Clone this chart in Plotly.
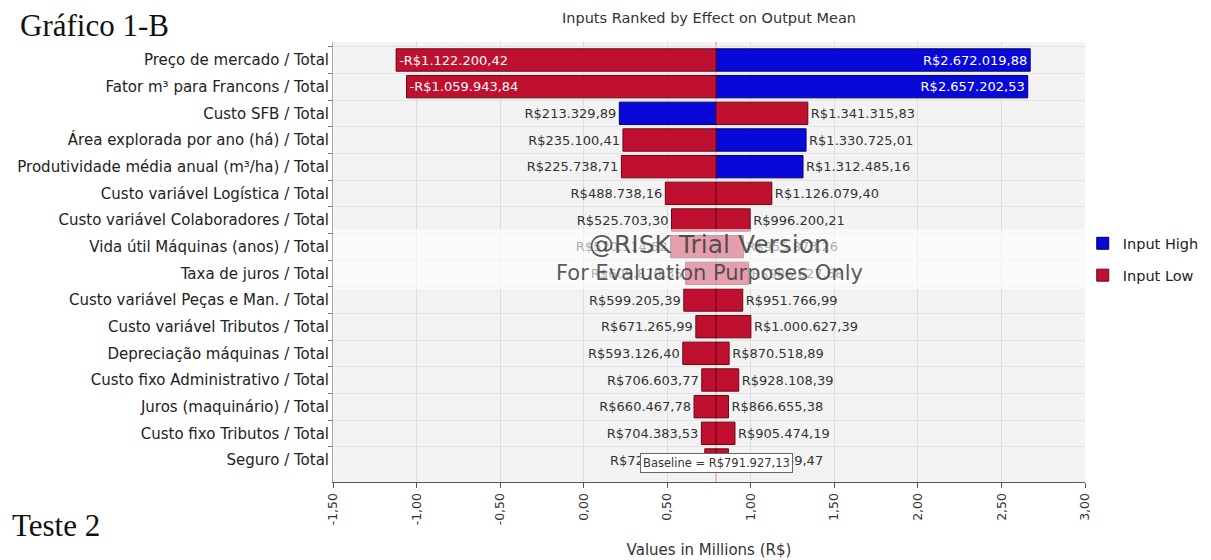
import plotly.graph_objects as go

categories = [
    "Preço de mercado / Total",
    "Fator m³ para Francons / Total",
    "Custo SFB / Total",
    "Área explorada por ano (há) / Total",
    "Produtividade média anual (m³/ha) / Total",
    "Custo variável Logística / Total",
    "Custo variável Colaboradores / Total",
    "Vida útil Máquinas (anos) / Total",
    "Taxa de juros / Total",
    "Custo variável Peças e Man. / Total",
    "Custo variável Tributos / Total",
    "Depreciação máquinas / Total",
    "Custo fixo Administrativo / Total",
    "Juros (maquinário) / Total",
    "Custo fixo Tributos / Total",
    "Seguro / Total",
]
# output mean (R$) at the left and right end of each bar
left_values = [-1122200.42, -1059943.84, 213329.89, 235100.41, 225738.71, 488738.16,
               525703.30, 520114.52, 609870.35, 599205.39, 671265.99, 593126.40,
               706603.77, 660467.78, 704383.53, 724697.37]
right_values = [2672019.88, 2657202.53, 1341315.83, 1330725.01, 1312485.16, 1126079.40,
                996200.21, 955873.26, 986627.68, 951766.99, 1000627.39, 870518.89,
                928108.39, 866655.38, 905474.19, 866159.47]
# which input level produced each end
left_input = ["Low", "Low", "High", "Low", "Low"] + ["Low"] * 11
right_input = ["High", "High", "Low", "High", "High"] + ["Low"] * 11
baseline = 791927.13

x_ticks = [-1.5, -1.0, -0.5, 0.0, 0.5, 1.0, 1.5, 2.0, 2.5, 3.0]

COLORS = {"High": ("#0808d8", "#00006a"), "Low": ("#bf1030", "#6a0616")}

OFF = 8  # page offset of the figure inside the window
W, H = 1211 - OFF, 560 - OFF
L, R, T, B = 333 - OFF, 126, 42 - OFF, 78
PW, PH = W - L - R, H - T - B


def px_x(px):
    return (px - OFF - L) / PW


def px_y(py):
    return (H - B - (py - OFF)) / PH


def brl(v):
    s = f"{abs(v):,.2f}".replace(",", "X").replace(".", ",").replace("X", ".")
    return ("-" if v < 0 else "") + "R$" + s


big = max(abs(r - l) for l, r in zip(left_values, right_values))
fig = go.Figure()
for level in ["High", "Low"]:
    ys, xs, texts, pos = [], [], [], []
    for cat, lv, rv, li, ri in zip(categories, left_values, right_values, left_input, right_input):
        inside = (rv - lv) > 0.7 * big
        for val, inp in ((lv, li), (rv, ri)):
            if inp != level:
                continue
            ys.append(cat)
            xs.append((val - baseline) / 1e6)
            texts.append(brl(val))
            pos.append("inside" if inside else "outside")
    fill, edge = COLORS[level]
    fig.add_trace(go.Bar(
        y=ys, x=xs, base=baseline / 1e6, orientation="h",
        name=f"Input {level}", text=texts, textposition=pos,
        insidetextanchor="end", textangle=0, constraintext="none",
        insidetextfont=dict(color="white", size=13, family="DejaVu Sans"),
        outsidetextfont=dict(color="#333333", size=13, family="DejaVu Sans"),
        marker=dict(color=fill, line=dict(color=edge, width=1)),
        width=0.84, cliponaxis=False, hoverinfo="skip",
        legendgroup=level,
    ))

fig.update_layout(
    width=W, height=H,
    margin=dict(l=L, r=R, t=T, b=B, autoexpand=False),
    barmode="overlay",
    separators=",.",
    paper_bgcolor="white",
    plot_bgcolor="#f3f3f3",
    font=dict(family="DejaVu Sans", size=12, color="#333333"),
    legend=dict(x=0.997, y=0.506, xanchor="left", yanchor="middle",
                font=dict(size=14.5, color="#222222"), traceorder="grouped",
                tracegroupgap=10, bgcolor="rgba(0,0,0,0)"),
    xaxis=dict(range=[-1.5, 3.0], tickvals=x_ticks,
               ticktext=[f"{v:.2f}".replace(".", ",") for v in x_ticks], tickangle=-90,
               ticks="outside", ticklen=5, tickcolor="#555", showline=True,
               linecolor="#555", showgrid=True, gridcolor="#dddddd", zeroline=False,
               automargin=False, tickfont=dict(size=12.5, color="#333"),
               title=dict(text="Values in Millions (R$)", standoff=20,
                          font=dict(size=15, color="#333"))),
    yaxis=dict(categoryorder="array", categoryarray=categories,
               range=[15.825, -0.675], ticks="outside", ticklen=4, tickcolor="#777",
               tickson="boundaries", showgrid=True, gridcolor="#e2e2e2",
               showline=True, linecolor="#aaaaaa", automargin=False,
               tickfont=dict(size=15, color="#222")),
)

# title
fig.add_annotation(x=0.5, y=px_y(18), xref="paper", yref="paper", yanchor="middle",
                   text="Inputs Ranked by Effect on Output Mean", showarrow=False,
                   font=dict(size=14.5, color="#333"))

# baseline line
fig.add_shape(type="line", xref="x", yref="paper", x0=baseline / 1e6, x1=baseline / 1e6,
              y0=0, y1=1, line=dict(color="#e58a8a", width=1), layer="below")

# watermark band
fig.add_shape(type="rect", xref="paper", yref="paper", x0=0, x1=1, y0=px_y(289), y1=px_y(229),
              fillcolor="rgba(255,255,255,0.6)", line=dict(width=0), layer="above")
fig.add_annotation(x=0.5, y=px_y(244), xref="paper", yref="paper", text="@RISK Trial Version",
                   showarrow=False, font=dict(size=25, color="rgba(60,60,60,0.85)", family="DejaVu Sans"))
fig.add_annotation(x=0.5, y=px_y(273), xref="paper", yref="paper", text="For Evaluation Purposes Only",
                   showarrow=False, font=dict(size=21, color="rgba(60,60,60,0.85)", family="DejaVu Sans"))

# baseline label
fig.add_annotation(x=baseline / 1e6, xref="x", y=px_y(473), yref="paper",
                   text="Baseline = " + brl(baseline), showarrow=False,
                   bgcolor="white", bordercolor="#666", borderwidth=1, borderpad=2,
                   font=dict(size=11.5, color="#333"))

# page texts
fig.add_annotation(x=px_x(18), y=px_y(26), xref="paper", yref="paper", xanchor="left",
                   yanchor="middle", text="Gráfico 1-B", showarrow=False,
                   font=dict(family="Liberation Serif", size=31, color="#111"))
fig.add_annotation(x=px_x(10), y=px_y(525), xref="paper", yref="paper", xanchor="left",
                   yanchor="middle", text="Teste 2", showarrow=False,
                   font=dict(family="Liberation Serif", size=31, color="#111"))

fig.write_html("out.html")
